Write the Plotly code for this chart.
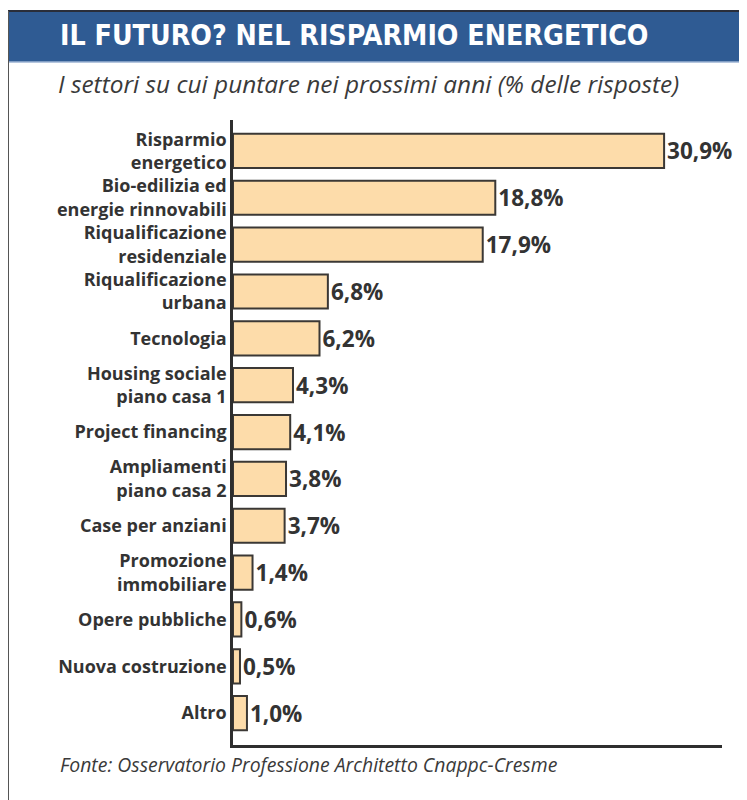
import plotly.graph_objects as go

categories = [
    "Risparmio<br>energetico",
    "Bio-edilizia ed<br>energie rinnovabili",
    "Riqualificazione<br>residenziale",
    "Riqualificazione<br>urbana",
    "Tecnologia",
    "Housing sociale<br>piano casa 1",
    "Project financing",
    "Ampliamenti<br>piano casa 2",
    "Case per anziani",
    "Promozione<br>immobiliare",
    "Opere pubbliche",
    "Nuova costruzione",
    "Altro",
]
values = [30.9, 18.8, 17.9, 6.8, 6.2, 4.3, 4.1, 3.8, 3.7, 1.4, 0.6, 0.5, 1.0]
value_labels = [f"{v:.1f}%".replace(".", ",") for v in values]

title_text = "IL FUTURO? NEL RISPARMIO ENERGETICO"
subtitle_text = "I settori su cui puntare nei prossimi anni (% delle risposte)"
source_text = "Fonte: Osservatorio Professione Architetto Cnappc-Cresme"

# the page body has an 8px margin; work in screen pixels and convert
OFF = 8
W, H = 747 - OFF, 800 - OFF
L, R, T, B = 233 - OFF, 722 - OFF, 120 - OFF, 745 - OFF


def px(x):
    return (x - OFF - L) / (R - L)


def py(y):
    return (B - (y - OFF)) / (B - T)


fig = go.Figure(
    go.Bar(
        x=values,
        y=list(range(len(categories))),
        orientation="h",
        marker=dict(color="#fddcaa", line=dict(color="#3b3835", width=2)),
        text=value_labels,
        textposition="outside",
        textfont=dict(family="Open Sans", size=22.5, color="#333333", weight="bold"),
        cliponaxis=False,
        width=0.73,
        hoverinfo="skip",
    )
)

fig.update_layout(
    width=W,
    height=H,
    margin=dict(l=L, r=W - R, t=T, b=H - B),
    paper_bgcolor="white",
    plot_bgcolor="white",
    showlegend=False,
    xaxis=dict(
        range=[0, 35.05],
        showgrid=False,
        zeroline=False,
        showticklabels=False,
        showline=True,
        linecolor="#2e2e2e",
        linewidth=2.5,
        ticks="",
        fixedrange=True,
    ),
    yaxis=dict(
        range=[12.68, -0.66],
        tickmode="array",
        tickvals=list(range(len(categories))),
        ticktext=[f"<b>{c}</b>" for c in categories],
        tickfont=dict(family="Open Sans", size=18, color="#333333"),
        showgrid=False,
        zeroline=False,
        showline=True,
        linecolor="#2e2e2e",
        linewidth=2.5,
        ticks="",
        ticklabelstandoff=0,
        fixedrange=True,
    ),
)

shapes = [
    dict(type="rect", xref="paper", yref="paper",
         x0=px(8), x1=px(760), y0=py(62), y1=py(11),
         fillcolor="#2f5b93", line=dict(width=0), layer="below"),
    dict(type="line", xref="paper", yref="paper",
         x0=px(8), x1=px(760), y0=py(11), y1=py(11),
         line=dict(color="#2a2e3a", width=2)),
    dict(type="line", xref="paper", yref="paper",
         x0=px(8), x1=px(760), y0=py(62), y1=py(62),
         line=dict(color="#9db3d3", width=1.5)),
    dict(type="line", xref="paper", yref="paper",
         x0=px(8), x1=px(8), y0=py(11), y1=py(805),
         line=dict(color="#555555", width=2)),
]

annotations = [
    dict(text=f"<b>{title_text}</b>", xref="paper", yref="paper",
         x=px(58), y=py(36), xanchor="left", yanchor="middle", showarrow=False,
         font=dict(family="DejaVu Sans Condensed", size=28.3, color="white")),
    dict(text=f"<i>{subtitle_text}</i>", xref="paper", yref="paper",
         x=px(56), y=py(84), xanchor="left", yanchor="middle", showarrow=False,
         font=dict(family="Open Sans", size=24.4, color="#3a3a3a")),
    dict(text=f"<i>{source_text}</i>", xref="paper", yref="paper",
         x=px(58), y=py(764), xanchor="left", yanchor="middle", showarrow=False,
         font=dict(family="Open Sans", size=19.4, color="#3a3a3a")),
]

fig.update_layout(shapes=shapes, annotations=annotations)

fig.write_html("out.html")
